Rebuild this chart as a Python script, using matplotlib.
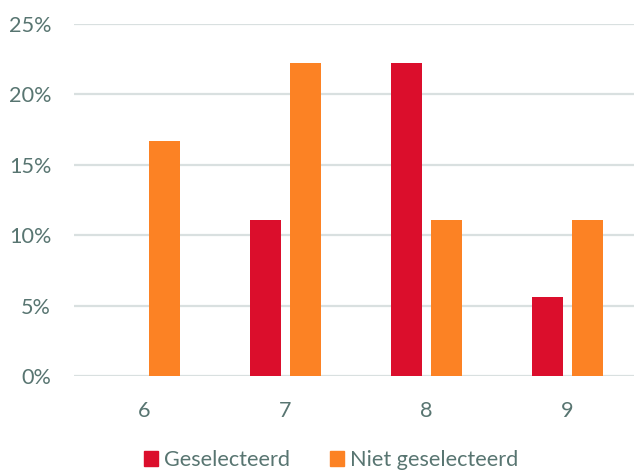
import matplotlib
matplotlib.use("Agg")
import matplotlib.pyplot as plt
import numpy as np
from matplotlib.patches import Patch

categories = ["6", "7", "8", "9"]
geselecteerd = [0.0, 11.1, 22.2, 5.6]
niet_geselecteerd = [16.7, 22.2, 11.1, 11.1]
series_names = ["Geselecteerd", "Niet geselecteerd"]
yticks = [0, 5, 10, 15, 20, 25]

red = "#DB0E2C"
orange = "#FC8224"
txt = "#587571"
grid = "#D9E0E0"

plt.rcParams['font.family'] = ['Lato', 'DejaVu Sans']

fig = plt.figure(figsize=(6.34, 4.70), dpi=100)
W, H = 634, 470
ax = fig.add_axes([74 / W, 94 / H, (634 - 74) / W, (376 - 24) / H])

x = np.arange(len(categories))
bw = 0.223
off = 0.1436
ax.bar(x - off, geselecteerd, bw, color=red, zorder=3)
ax.bar(x + off, niet_geselecteerd, bw, color=orange, zorder=3)

ax.set_xlim(-0.5, -0.5 + 560 / 141)
ax.set_ylim(0, 25)
ax.set_yticks(yticks)
ax.set_yticklabels([f"{v}%" for v in yticks])
ax.set_xticks(x)
ax.set_xticklabels(categories)
ax.yaxis.grid(True, color=grid, linewidth=1.6, zorder=0)
ax.set_axisbelow(True)
for s in ax.spines.values():
    s.set_visible(False)
ax.tick_params(axis='both', length=0, labelsize=15.6, colors=txt)
ax.tick_params(axis='y', pad=16.5)
ax.tick_params(axis='x', pad=18)
for lab in ax.get_xticklabels() + ax.get_yticklabels():
    lab.set_color(txt)

handles = [Patch(color=red, label=series_names[0]), Patch(color=orange, label=series_names[1])]
leg = fig.legend(handles=handles, loc='center', bbox_to_anchor=(331 / W, 10 / H), ncol=2,
                 frameon=False, fontsize=15.6, handlelength=0.65, handleheight=0.65,
                 handletextpad=0.28, columnspacing=1.84, borderpad=0)
for t in leg.get_texts():
    t.set_color(txt)

fig.savefig("out.png", dpi=100)
